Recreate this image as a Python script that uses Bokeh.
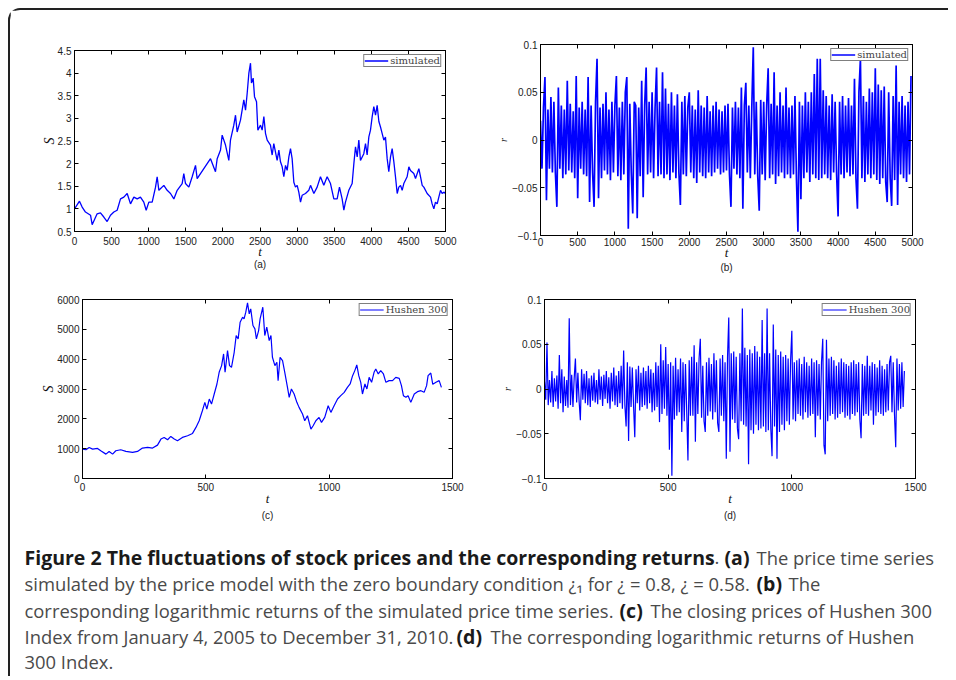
from bokeh.plotting import figure
from bokeh.layouts import column, row
from bokeh.models import Range1d, LinearAxis, FixedTicker, Legend, LegendItem
from bokeh.embed import file_html
from bokeh.resources import INLINE
from bokeh.core.properties import value

# ---------------- data ----------------
# (a) simulated price
a_t = [0, 67, 103, 148, 216, 238, 305, 350, 395, 440,
       485, 530, 575, 620, 665, 710, 755, 800, 845, 889,
       934, 966, 1002, 1047, 1092, 1114, 1137, 1204, 1249, 1294,
       1339, 1384, 1451, 1473, 1496, 1541, 1586, 1631, 1653, 1698,
       1743, 1788, 1833, 1900, 1923, 1968, 1990, 2035, 2080, 2102,
       2147, 2170, 2192, 2237, 2282, 2305, 2327, 2350, 2372, 2385,
       2408, 2426, 2453, 2471, 2507, 2529, 2552, 2574, 2597, 2641,
       2664, 2686, 2731, 2754, 2776, 2799, 2821, 2844, 2866, 2889,
       2911, 2933, 2956, 2978, 3001, 3023, 3046, 3068, 3113, 3158,
       3181, 3226, 3270, 3315, 3360, 3405, 3450, 3495, 3540, 3571,
       3607, 3630, 3652, 3697, 3742, 3765, 3787, 3810, 3832, 3854,
       3899, 3922, 3944, 3967, 3989, 4012, 4034, 4057, 4079, 4102,
       4124, 4146, 4169, 4191, 4214, 4236, 4259, 4281, 4304, 4326,
       4349, 4371, 4394, 4416, 4438, 4483, 4506, 4528, 4573, 4596,
       4641, 4663, 4686, 4708, 4753, 4798, 4820, 4843, 4865, 4888,
       4910, 4933, 4955, 4977, 5000]
a_S = [1.00, 1.17, 1.04, 0.93, 0.86, 0.65, 0.89, 0.91, 0.82, 0.72,
       0.86, 0.93, 0.97, 1.22, 1.26, 1.34, 1.11, 1.26, 1.22, 1.26,
       1.15, 0.97, 1.15, 1.15, 1.48, 1.71, 1.41, 1.52, 1.41, 1.34,
       1.22, 1.41, 1.56, 1.78, 1.56, 1.48, 1.71, 1.96, 1.67, 1.78,
       1.89, 2.00, 2.11, 1.82, 2.11, 2.30, 2.63, 2.41, 2.07, 2.52,
       2.85, 3.07, 2.70, 2.96, 3.41, 3.18, 3.55, 4.00, 4.22, 3.78,
       3.89, 3.48, 3.37, 2.74, 2.85, 2.74, 3.04, 2.67, 2.52, 2.41,
       2.19, 2.44, 2.07, 2.30, 2.04, 1.93, 1.71, 1.96, 1.85, 2.15,
       2.33, 2.11, 1.59, 1.48, 1.52, 1.37, 1.15, 1.30, 1.34, 1.41,
       1.52, 1.34, 1.48, 1.71, 1.52, 1.71, 1.56, 1.22, 1.22, 1.48,
       1.22, 0.97, 1.15, 1.41, 1.56, 2.00, 2.37, 2.15, 2.52, 2.07,
       2.22, 2.44, 2.19, 2.59, 2.74, 3.04, 3.26, 3.07, 3.29, 2.93,
       2.81, 2.67, 2.52, 2.59, 2.11, 1.82, 2.15, 2.33, 2.04, 1.71,
       1.34, 1.48, 1.52, 1.41, 1.56, 1.71, 1.93, 1.85, 1.78, 1.67,
       1.89, 1.71, 1.52, 1.48, 1.34, 1.26, 1.11, 1.00, 1.15, 1.11,
       1.26, 1.41, 1.34, 1.37, 1.34]

# (b) simulated returns, sampled every 20 steps
b_t = list(range(0, 5000, 20))
b_r = [0.020, -0.030, 0.034, 0.066, -0.063, 0.032, -0.030, 0.045, -0.034, 0.040,
       -0.034, -0.070, 0.055, -0.030, 0.036, -0.040, 0.032, -0.036, 0.062, -0.032,
       0.038, -0.034, 0.030, -0.040, 0.067, -0.061, 0.034, -0.030, 0.040, -0.036,
       0.032, -0.038, 0.066, -0.065, 0.036, -0.034, -0.070, 0.040, 0.085, -0.061,
       0.034, -0.040, 0.038, -0.032, 0.050, -0.036, 0.032, -0.042, 0.040, -0.034,
       0.036, 0.067, -0.038, 0.034, -0.042, 0.040, -0.036, 0.050, 0.066, -0.093,
       0.038, -0.034, -0.077, 0.040, 0.036, -0.082, 0.034, -0.038, 0.062, -0.060,
       0.036, 0.076, -0.036, 0.040, -0.034, 0.050, -0.040, 0.034, 0.076, -0.038,
       0.040, -0.036, 0.071, -0.040, 0.054, -0.036, 0.038, -0.042, 0.050, -0.034,
       0.036, -0.040, 0.048, -0.034, -0.068, 0.040, -0.036, 0.046, -0.038, 0.034,
       0.050, -0.034, 0.036, -0.040, 0.032, -0.045, 0.052, -0.034, 0.036, -0.038,
       0.034, -0.040, 0.046, -0.034, 0.030, -0.038, 0.036, -0.034, 0.040, -0.030,
       0.032, -0.036, 0.030, -0.034, 0.036, -0.032, 0.038, -0.036, -0.070, 0.034,
       -0.030, 0.040, -0.036, 0.034, -0.040, 0.055, -0.072, 0.036, 0.060, -0.034,
       0.036, -0.040, 0.034, 0.097, -0.036, 0.040, -0.038, -0.074, 0.042, -0.036,
       0.040, -0.042, 0.036, 0.075, -0.040, 0.038, -0.036, 0.071, -0.046, 0.036,
       -0.038, 0.050, -0.034, 0.036, -0.040, 0.055, -0.036, 0.034, -0.040, 0.036,
       -0.036, 0.046, -0.040, -0.096, 0.040, -0.062, 0.036, -0.040, 0.050, -0.034,
       0.040, -0.044, 0.050, -0.036, 0.069, -0.040, 0.085, -0.042, 0.085, -0.040,
       0.052, -0.036, 0.046, -0.040, 0.036, -0.042, 0.048, -0.034, 0.040, -0.036,
       -0.080, 0.040, -0.036, 0.046, -0.040, 0.036, -0.034, 0.044, -0.038, 0.036,
       -0.036, 0.064, -0.040, -0.072, 0.050, 0.085, -0.040, 0.046, -0.044, 0.040,
       -0.036, 0.054, -0.040, 0.050, -0.036, 0.075, -0.042, 0.058, -0.046, 0.052,
       -0.040, 0.056, -0.044, -0.065, 0.050, -0.040, -0.069, 0.046, -0.042, 0.078,
       -0.068, 0.040, -0.036, 0.046, -0.040, 0.036, -0.044, 0.040, -0.036, 0.067]

# (c) Hushen 300 closing prices
c_t = [0, 14, 27, 41, 61, 74, 95, 108, 122, 135,
       155, 176, 203, 223, 243, 264, 284, 304, 318, 331,
       345, 358, 372, 385, 405, 426, 446, 460, 473, 486,
       496, 504, 514, 523, 534, 545, 554, 564, 572, 578,
       588, 596, 604, 615, 623, 631, 639, 649, 655, 662,
       669, 676, 682, 691, 699, 705, 714, 720, 731, 739,
       747, 757, 764, 770, 780, 788, 793, 801, 811, 820,
       831, 838, 847, 858, 869, 878, 892, 901, 912, 926,
       935, 946, 959, 969, 982, 996, 1007, 1020, 1034, 1047,
       1061, 1074, 1085, 1095, 1104, 1112, 1120, 1128, 1135, 1145,
       1153, 1162, 1172, 1182, 1189, 1199, 1209, 1220, 1230, 1243,
       1257, 1270, 1284, 1293, 1301, 1311, 1320, 1331, 1345, 1358,
       1372, 1385, 1395, 1401, 1412, 1420, 1433, 1446, 1455]
c_S = [985, 963, 1041, 985, 1007, 929, 817, 907, 817, 929,
       963, 907, 873, 907, 1019, 1041, 1019, 1119, 1321, 1377,
       1299, 1410, 1321, 1265, 1377, 1433, 1511, 1713, 1937, 2272,
       2552, 2328, 2664, 2496, 2832, 3168, 3560, 3784, 4175, 3560,
       4287, 3784, 3728, 4231, 4791, 4679, 5239, 5407, 5351, 5575,
       5888, 5519, 5687, 5127, 5015, 4679, 4959, 5351, 5743, 4791,
       5071, 4623, 4791, 4063, 3784, 3896, 3280, 4063, 3951, 3560,
       3056, 2720, 3000, 2832, 2552, 2384, 2160, 1937, 2104, 1657,
       1769, 1937, 2048, 1881, 2048, 2440, 2216, 2440, 2664, 2776,
       2888, 3056, 3168, 3448, 3616, 3806, 3448, 3224, 2832, 3168,
       3000, 3392, 3224, 3560, 3672, 3504, 3616, 3504, 3224, 3280,
       3280, 3392, 3358, 3112, 2776, 2720, 2776, 2552, 2832, 2910,
       2944, 2888, 3112, 3448, 3537, 3157, 3224, 3280, 3056]

# (d) Hushen 300 log returns, sampled every 5 days
d_t = list(range(0, 1460, 5))
d_r = [0.008, -0.012, 0.052, -0.018, 0.010, -0.015, 0.020, -0.020, 0.012, -0.014,
       0.015, -0.022, 0.038, -0.016, 0.022, -0.026, 0.014, -0.019, 0.010, -0.021,
       0.079, -0.018, 0.016, -0.020, 0.012, 0.034, -0.015, 0.018, -0.014, -0.035,
       0.022, -0.012, 0.017, -0.016, 0.020, -0.018, 0.012, -0.020, 0.015, -0.013,
       0.018, -0.015, 0.010, -0.017, 0.022, -0.012, 0.014, -0.019, 0.016, -0.011,
       0.020, -0.016, 0.013, -0.022, 0.018, -0.014, 0.024, -0.018, 0.015, -0.020,
       0.020, -0.016, 0.026, -0.022, 0.043, -0.018, -0.042, 0.030, -0.058, 0.025,
       -0.020, 0.024, -0.018, -0.054, 0.022, -0.016, 0.026, -0.024, 0.018, -0.020,
       0.024, -0.018, 0.020, -0.022, 0.026, -0.016, 0.022, -0.026, 0.018, -0.024,
       0.030, -0.020, 0.026, -0.037, 0.050, -0.028, 0.032, -0.022, 0.047, -0.030,
       0.028, -0.068, 0.030, -0.097, 0.026, -0.034, 0.035, -0.030, 0.022, -0.026,
       0.034, -0.048, 0.030, -0.036, 0.028, -0.025, -0.080, 0.032, -0.030, 0.036,
       -0.030, 0.049, -0.059, 0.030, -0.028, 0.034, 0.056, -0.032, 0.026, -0.036,
       -0.048, 0.030, -0.030, 0.035, -0.025, 0.028, -0.034, 0.040, -0.026, 0.032,
       -0.038, -0.048, 0.034, -0.030, 0.038, -0.036, 0.030, -0.078, 0.036, 0.080,
       -0.070, 0.040, -0.034, 0.042, -0.038, 0.036, -0.044, -0.056, 0.040, -0.036,
       0.090, -0.040, 0.046, -0.042, 0.038, -0.084, 0.044, -0.046, 0.040, -0.050,
       0.048, -0.040, 0.042, -0.046, 0.036, -0.044, 0.077, -0.042, 0.040, -0.048,
       0.090, -0.046, 0.040, -0.044, -0.075, 0.072, -0.042, 0.044, -0.078, 0.038,
       -0.048, 0.042, -0.040, 0.036, -0.046, 0.038, -0.036, 0.034, -0.040, 0.032,
       0.065, -0.034, 0.030, -0.036, 0.032, -0.028, 0.034, -0.030, 0.028, -0.034,
       0.036, -0.026, 0.030, -0.032, 0.026, -0.030, 0.034, -0.028, 0.030, -0.054,
       0.032, -0.030, 0.028, -0.034, 0.030, 0.056, -0.063, -0.073, 0.055, -0.036,
       0.034, -0.030, 0.036, -0.028, 0.032, -0.034, 0.026, -0.032, 0.030, -0.028,
       0.034, -0.026, 0.030, -0.032, 0.028, -0.030, 0.026, -0.034, 0.030, -0.028,
       0.032, -0.030, 0.028, -0.026, 0.030, -0.034, -0.055, 0.028, -0.030, 0.026,
       -0.028, 0.037, -0.030, 0.026, -0.024, 0.030, -0.040, 0.028, -0.030, 0.024,
       -0.026, 0.032, -0.028, 0.026, -0.030, 0.022, -0.026, 0.028, -0.024, 0.030,
       0.037, -0.026, 0.030, -0.028, -0.065, 0.034, -0.024, 0.028, -0.022, 0.030,
       -0.020, 0.020]

# ticks and labels
t5000_ticks = [0, 500, 1000, 1500, 2000, 2500, 3000, 3500, 4000, 4500, 5000]
t5000_labels = ["0", "500", "1000", "1500", "2000", "2500", "3000", "3500", "4000", "4500", "5000"]
t1500_ticks = [0, 500, 1000, 1500]
t1500_labels = ["0", "500", "1000", "1500"]
a_y_ticks = [0.5, 1, 1.5, 2, 2.5, 3, 3.5, 4, 4.5]
a_y_labels = ["0.5", "1", "1.5", "2", "2.5", "3", "3.5", "4", "4.5"]
r_ticks = [-0.1, -0.05, 0, 0.05, 0.1]
r_labels = ["\u22120.1", "\u22120.05", "0", "0.05", "0.1"]
c_y_ticks = [0, 1000, 2000, 3000, 4000, 5000, 6000]
c_y_labels = ["0", "1000", "2000", "3000", "4000", "5000", "6000"]

series_names = ["simulated", "simulated", "Hushen 300", "Hushen 300"]
panel_tags = ["(a)", "(b)", "(c)", "(d)"]
x_label = "t"
y_labels = ["S", "r", "S", "r"]

caption_runs = [
    "Figure 2 The fluctuations of stock prices and the corresponding returns", ".", "(a)", "The price time series",
    "simulated by the price model with the zero boundary condition \u00bf\u2081 for \u00bf = 0.8, \u00bf = 0.58.", "(b)", "The",
    "corresponding logarithmic returns of the simulated price time series.", "(c)", "The closing prices of Hushen 300",
    "Index from January 4, 2005 to December 31, 2010.", "(d)", "The corresponding logarithmic returns of Hushen",
    "300 Index.",
]
caption_bold = [True, False, True, False, False, True, False, False, True, False, False, True, False, False]

# ---------------- styling / layout ----------------
BLUE = "#0000ff"
TICK_FONT = "Liberation Sans"
SERIF = "Liberation Serif"


def panel(width, height, borders, x_rng, y_rng, x_ticks, x_labels, y_ticks, y_lbls,
          y_label, y_label_size, y_label_standoff, x_tick_standoff, x_label_standoff,
          title_standoff, tag, name, xs, ys, line_width):
    left, right, top, bottom = borders
    p = figure(width=width, height=height, x_range=Range1d(*x_rng), y_range=Range1d(*y_rng),
               x_axis_type=None, y_axis_type=None, output_backend="svg", toolbar_location=None,
               min_border_left=left, min_border_right=right, min_border_top=top,
               min_border_bottom=bottom, title=tag, title_location="below")
    p.outline_line_color = "black"
    p.outline_line_width = 1
    p.background_fill_color = "white"
    p.border_fill_color = "white"
    p.title.text_font = TICK_FONT
    p.title.text_font_size = "10px"
    p.title.text_font_style = "normal"
    p.title.text_color = "#222222"
    p.title.align = "center"
    p.title.standoff = title_standoff

    xt = FixedTicker(ticks=x_ticks)
    yt = FixedTicker(ticks=y_ticks)
    common = dict(axis_line_color="black", axis_line_width=1, major_tick_line_color="black",
                  major_tick_in=4, major_tick_out=0, minor_tick_line_color=None,
                  major_label_text_font=TICK_FONT, major_label_text_font_size="10px")
    xb = LinearAxis(ticker=xt, major_label_overrides=dict(zip(x_ticks, x_labels)),
                    axis_label=x_label, axis_label_text_font=SERIF,
                    axis_label_text_font_style="italic", axis_label_text_font_size="13px",
                    axis_label_text_line_height=1.0,
                    axis_label_text_color="#111111", major_label_text_color="#222222",
                    axis_label_standoff=x_label_standoff, major_label_standoff=x_tick_standoff,
                    **common)
    yl = LinearAxis(ticker=yt, major_label_overrides=dict(zip(y_ticks, y_lbls)),
                    axis_label=y_label, axis_label_text_font=SERIF,
                    axis_label_text_font_style="italic", axis_label_text_font_size=y_label_size,
                    axis_label_text_color="#111111", major_label_text_color="#222222",
                    axis_label_standoff=y_label_standoff, major_label_standoff=3, **common)
    xa = LinearAxis(ticker=xt, major_label_standoff=0, major_label_text_color=None, **common)
    yr = LinearAxis(ticker=yt, major_label_standoff=0, major_label_text_color=None, **common)
    p.add_layout(xb, "below")
    p.add_layout(yl, "left")
    p.add_layout(xa, "above")
    p.add_layout(yr, "right")

    r = p.line(xs, ys, line_color=BLUE, line_width=line_width)
    leg = Legend(items=[LegendItem(label=name, renderers=[r])], location="top_right",
                 border_line_color="black", border_line_width=1.2, padding=0, spacing=0,
                 margin=4, label_text_font="DejaVu Serif", label_text_font_size="10px",
                 label_height=9, glyph_height=9, glyph_width=24, label_standoff=2,
                 background_fill_color="white", background_fill_alpha=1)
    p.add_layout(leg)
    return p


pa = panel(470, 275, (64, 35, 40, 54), (0, 5000), (0.5, 4.5), t5000_ticks, t5000_labels,
           a_y_ticks, a_y_labels, y_labels[0], "14px", -2, 5, -4, -9,
           panel_tags[0], series_names[0], a_t, a_S, 1.3)
pb = panel(468, 275, (60, 36, 34, 50), (0, 5000), (-0.1, 0.1), t5000_ticks, t5000_labels,
           r_ticks, r_labels, y_labels[1], "10px", 0, 2, -4, -6,
           panel_tags[1], series_names[1], b_t, b_r, 1.7)
pc = panel(470, 245, (72, 28, 14, 52), (0, 1500), (0, 6000), t1500_ticks, t1500_labels,
           c_y_ticks, c_y_labels, y_labels[2], "14px", -2, 4, -3, -2,
           panel_tags[2], series_names[2], c_t, c_S, 1.2)
pd = panel(468, 245, (64, 33, 14, 52), (0, 1500), (-0.1, 0.1), t1500_ticks, t1500_labels,
           r_ticks, r_labels, y_labels[3], "10px", 0, 4, -3, -2,
           panel_tags[3], series_names[3], d_t, d_r, 1.2)

# caption
cap = figure(width=938, height=146, x_range=Range1d(0, 938), y_range=Range1d(146, 0),
             x_axis_type=None, y_axis_type=None, output_backend="svg", toolbar_location=None,
             min_border=0)
cap.outline_line_color = None
cap.border_fill_color = "white"
cap.background_fill_color = "white"
run_x = [14, 704, 714, 746,
         14, 746, 778,
         14, 609, 640,
         14, 446, 480,
         14]
run_y = [27, 27, 27, 27,
         53, 53, 53,
         79.5, 79.5, 79.5,
         105.5, 105.5, 105.5,
         131]
for txt, b, x, y in zip(caption_runs, caption_bold, run_x, run_y):
    cap.text(x=[x], y=[y], text=[txt], text_font=value("Open Sans"),
             text_font_size=value("19.5px" if b else "18.4px"),
             text_font_style="bold" if b else "normal", text_line_height=1.0,
             text_color="#1a1a1a" if b else "#4a4a4a", text_baseline="middle", text_align="left")

layout = column(row(pa, column(pb), spacing=0), row(pc, pd, spacing=0), cap, spacing=0,
                styles={"margin-left": "8px", "margin-top": "8px",
                        "border-left": "2px solid #222", "border-top": "2px solid #222",
                        "border-top-left-radius": "12px"})

open("out.html", "w").write(file_html(layout, INLINE))
